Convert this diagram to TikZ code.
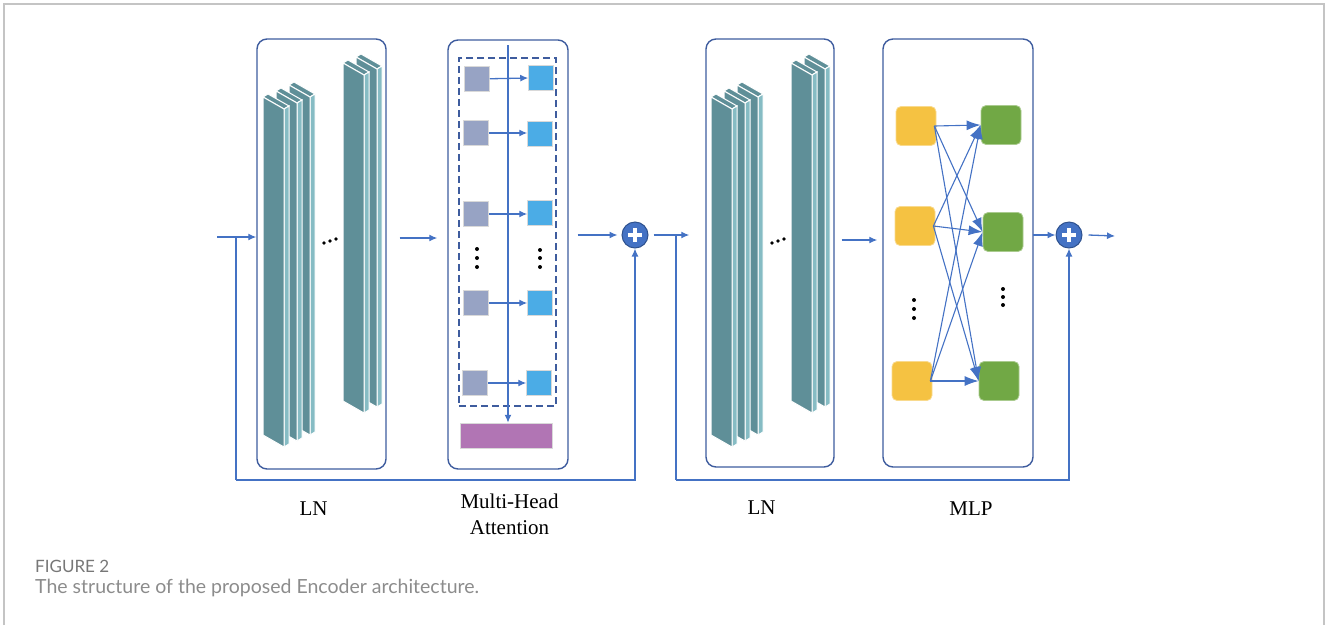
\documentclass[tikz,border=0pt]{standalone}
\usepackage{fontspec}
\setmainfont{Liberation Serif}
\newfontfamily\capfont{Lato}
\usetikzlibrary{arrows.meta,positioning}

\definecolor{boxblue}{HTML}{3E5C9E}
\definecolor{flowblue}{HTML}{4472C4}
\definecolor{plusdark}{HTML}{2F528F}
\definecolor{slabteal}{HTML}{5F8F98}
\definecolor{slablight}{HTML}{86BCC4}
\definecolor{querygray}{HTML}{97A3C4}
\definecolor{keyblue}{HTML}{4BACE6}
\definecolor{outpurple}{HTML}{B175B4}
\definecolor{inyellow}{HTML}{F5C242}
\definecolor{outgreen}{HTML}{71A845}
\definecolor{framegray}{HTML}{C4C4C4}
\definecolor{captiongray}{HTML}{8C8C8C}

% one slab of a layer-norm stack, front top-left corner at (#1,#2)
\newcommand{\lnslab}[2]{%
  \filldraw[slabface] (#1,#2) -- ++(5,-3) -- ++(21,12) -- ++(-5,3) -- cycle;
  \filldraw[slabface,fill=slablight] (#1+21,#2+12) -- ++(5,-3) -- ++(0,338) -- ++(-5,3) -- cycle;
  \filldraw[slabface] (#1,#2) -- ++(21,12) -- ++(0,338) -- ++(-21,-12) -- cycle;
}

\begin{document}
\begin{tikzpicture}[x=1pt,y=-1pt,>={Latex[length=8pt,width=7pt]},
  block/.style={draw=boxblue,line width=1.4pt,rounded corners=10pt,inner sep=0pt},
  slabface/.style={fill=slabteal,draw=white,line width=1pt},
  flow/.style={->,draw=flowblue,line width=1.3pt},
  mlparrow/.style={-{Latex[length=14pt,width=10pt]},draw=flowblue,line width=1.1pt},
  sq/.style={minimum size=25pt,inner sep=0pt,draw=white!85!black,line width=0.5pt},
  unit/.style={minimum width=40pt,minimum height=39pt,inner sep=0pt,rounded corners=5pt,line width=0.8pt},
  plus/.style={circle,fill=flowblue,draw=plusdark,line width=1pt,minimum size=26pt,inner sep=0pt,
    path picture={\draw[white,line width=3.2pt] ([xshift=-7pt]path picture bounding box.center) -- ([xshift=7pt]path picture bounding box.center)
      ([yshift=-7pt]path picture bounding box.center) -- ([yshift=7pt]path picture bounding box.center);}},
  lbl/.style={font=\fontsize{21}{26}\selectfont,align=center,inner sep=2pt}]

 \useasboundingbox (0,0) rectangle (1328,625);
 \draw[framegray,line width=1.5pt] (4,625) -- (4,4) -- (1324,4) -- (1324,625);

 % blocks
 \node[block,minimum width=129pt,minimum height=430pt] (ln1) at (321.5,254) {};
 \node[block,minimum width=120pt,minimum height=429pt] (mha) at (508,254.5) {};
 \node[block,minimum width=128pt,minimum height=428pt] (ln2) at (770,253) {};
 \node[block,minimum width=150pt,minimum height=428pt] (mlp) at (958,253) {};

 % layer norm stacks
 \lnslab{289}{85} \lnslab{276}{91} \lnslab{263}{97}
 \lnslab{356}{57} \lnslab{343}{63}
 \lnslab{737}{85} \lnslab{724}{91} \lnslab{711}{97}
 \lnslab{804}{57} \lnslab{791}{63}
 \fill (324,243) circle (1.9pt) (330,241) circle (1.9pt) (336,239) circle (1.9pt);
 \fill (772,243) circle (1.9pt) (778,241) circle (1.9pt) (784,239) circle (1.9pt);

 % multi-head attention
 \node[draw=boxblue,dash pattern=on 7pt off 4pt,line width=1.2pt,minimum width=97pt,minimum height=348pt] (heads) at (507.5,232) {};
 \node[minimum width=92pt,minimum height=25pt,fill=outpurple,draw=white!85!black,line width=0.5pt] (concat) at (506,435.5) {};
 \coordinate (top) at (508,45);
 \draw[flow] (top) -- (concat.north -| top);
 \node[sq,fill=querygray] (q1) at (477,79) {};
 \node[sq,fill=querygray] (q2) at (476,133) {};
 \node[sq,fill=querygray] (q3) at (476,214) {};
 \node[sq,fill=querygray] (q4) at (476,303) {};
 \node[sq,fill=querygray] (q5) at (475,383) {};
 \node[sq,fill=keyblue] (k1) at (541,78) {};
 \node[sq,fill=keyblue] (k2) at (540,134) {};
 \node[sq,fill=keyblue] (k3) at (540,213) {};
 \node[sq,fill=keyblue] (k4) at (540,303) {};
 \node[sq,fill=keyblue] (k5) at (539,383) {};
 \draw[flow] (q1) -- (k1 -| k1.west);
 \draw[flow] (q2) -- (q2 -| k2.west);
 \draw[flow] (q3) -- (q3 -| k3.west);
 \draw[flow] (q4) -- (q4 -| k4.west);
 \draw[flow] (q5) -- (q5 -| k5.west);
 \fill (477,249) circle (2pt) (477,258) circle (2pt) (477,267) circle (2pt);
 \fill (540,250) circle (2pt) (540,258) circle (2pt) (540,267) circle (2pt);

 % multilayer perceptron
 \node[unit,fill=inyellow,draw=inyellow!60!white] (y1) at (916,126) {};
 \node[unit,fill=inyellow,draw=inyellow!60!white] (y2) at (915,226) {};
 \node[unit,fill=inyellow,draw=inyellow!60!white] (y3) at (912,381) {};
 \node[unit,fill=outgreen,draw=outgreen!60!white] (g1) at (1001,125) {};
 \node[unit,fill=outgreen,draw=outgreen!60!white] (g2) at (1003,232) {};
 \node[unit,fill=outgreen,draw=outgreen!60!white] (g3) at (999,381) {};
 \foreach \a in {y1,y2,y3}
   \foreach \b in {g1,g2,g3}
     \draw[mlparrow] ([xshift=-2pt]\a.east) -- (\b.west);
 \fill (914,300) circle (2pt) (914,309) circle (2pt) (914,318) circle (2pt);
 \fill (1003,289) circle (2pt) (1003,297) circle (2pt) (1003,305) circle (2pt);

 % residual adds
 \node[plus] (p1) at (635,235) {};
 \node[plus] (p2) at (1069,235) {};

 % main flow
 \coordinate (in) at (217,237);
 \coordinate (sk1) at (236,237);
 \coordinate (sk1b) at (236,480);
 \coordinate (sk2) at (676,236);
 \coordinate (sk2b) at (676,480);
 \coordinate (out) at (1115,236);
 \draw[flow] (in) -- (in -| ln1.west);
 \draw[draw=flowblue,line width=1.3pt] (sk1) -- (sk1b);
 \draw[flow] (sk1b) -| (p1.south);
 \draw[flow] ([xshift=13pt]ln1.east |- 0,238) -- ([xshift=-10pt]mha.west |- 0,238);
 \draw[flow] ([xshift=9pt]mha.east |- p1) -- ([xshift=-4pt]p1.west);
 \draw[flow] ([xshift=5pt]p1.east) -- ([xshift=-16pt]ln2.west |- p1);
 \draw[draw=flowblue,line width=1.3pt] (sk2) -- (sk2b);
 \draw[flow] (sk2b) -| (p2.south);
 \draw[flow] ([xshift=7pt]ln2.east |- 0,240) -- ([xshift=-5pt]mlp.west |- 0,240);
 \draw[flow] ([xshift=-1pt]mlp.east |- p2) -- (p2.west);
 \draw[flow] ([xshift=6pt]p2.east) -- (out);

 % labels
 \node[lbl,below=30pt of ln1,xshift=-8pt] (lnlab1) {LN};
 \node[lbl,below=22pt of mha,xshift=1.5pt] (mhalab) {Multi-Head\\Attention};
 \node[lbl,below=31pt of ln2,xshift=-8.5pt] (lnlab2) {LN};
 \node[lbl,below=32pt of mlp,xshift=13pt] (mlplab) {MLP};

 % caption
 \node[anchor=west,inner sep=0pt,text=captiongray!85!black,font=\capfont\fontsize{17}{20}\selectfont] (fig) at (35,566) {FIGURE 2};
 \node[anchor=west,inner sep=0pt,text=captiongray,font=\capfont\fontsize{19.5}{23}\selectfont] (cap) at (35,588) {The structure of the proposed Encoder architecture.};
\end{tikzpicture}
\end{document}
